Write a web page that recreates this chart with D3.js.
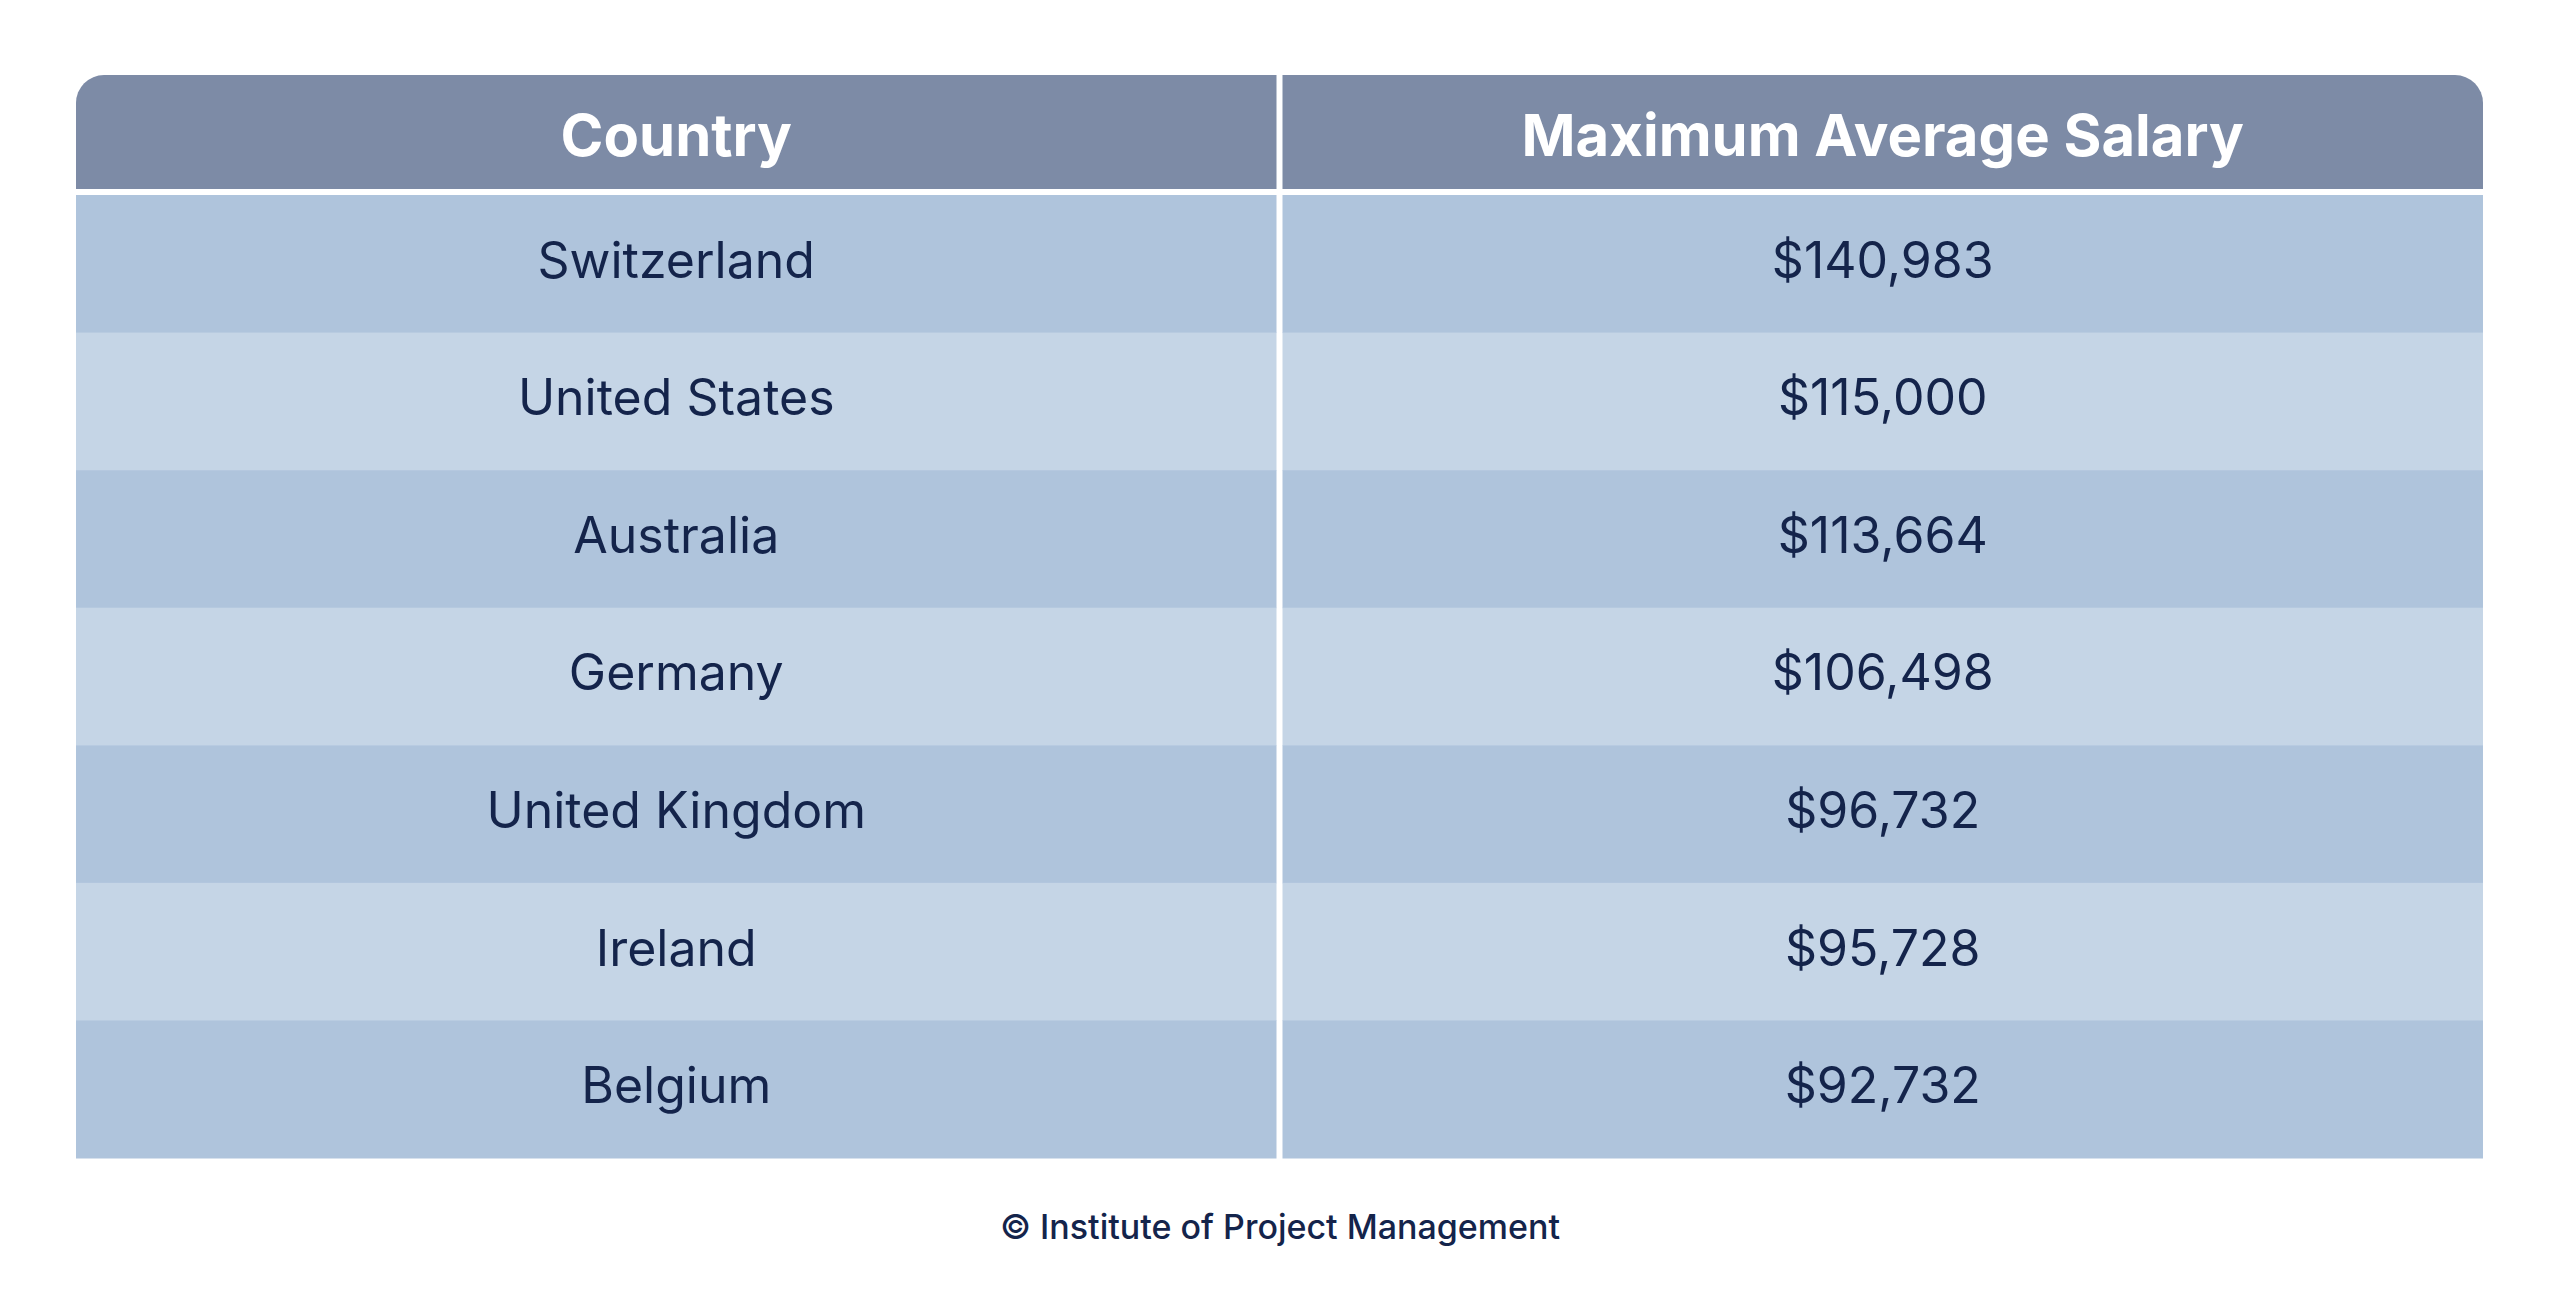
<!DOCTYPE html>
<html>
<head>
<meta charset="utf-8">
<script src="https://cdn.jsdelivr.net/npm/d3@7"></script>
<style>
  html, body { margin: 0; padding: 0; background: #fff; }
  svg { display: block; }
  text { font-family: Inter, "Noto Sans", sans-serif; }
</style>
</head>
<body>
<div id="table"></div>
<script>
// table contents
var headers = ["Country", "Maximum Average Salary"];
var countries = ["Switzerland", "United States", "Australia", "Germany", "United Kingdom", "Ireland", "Belgium"];
var salaries = [140983, 115000, 113664, 106498, 96732, 95728, 92732];
var source = "\u00A9 Institute of Project Management";

var width = 2560, height = 1302;
var tLeft = 76, tRight = 2483, tTop = 75, headBottom = 189, rowsTop = 195, tBottom = 1158;
var gap = 6, radius = 28;

var fmt = d3.format("$,");

var svg = d3.select("#table")
    .append("svg")
    .attr("width", width)
    .attr("height", height);

// columns
var x = d3.scaleBand()
    .domain(d3.range(headers.length))
    .range([tLeft, tRight])
    .paddingInner(gap / ((tRight - tLeft + gap) / 2));

// rows
var y = d3.scaleBand()
    .domain(countries)
    .range([rowsTop, tBottom]);

// header cells, outer top corners rounded
function headPath(i) {
    var x0 = x(i), x1 = x(i) + x.bandwidth(), y0 = tTop, y1 = headBottom;
    var p = d3.path();
    var rl = i === 0 ? radius : 0, rr = i === headers.length - 1 ? radius : 0;
    p.moveTo(x0, y1);
    p.lineTo(x0, y0 + rl);
    if (rl) p.arcTo(x0, y0, x0 + rl, y0, rl);
    p.lineTo(x1 - rr, y0);
    if (rr) p.arcTo(x1, y0, x1, y0 + rr, rr);
    p.lineTo(x1, y1);
    p.closePath();
    return p.toString();
}

svg.selectAll("path.head")
    .data(headers)
    .enter().append("path")
    .attr("class", "head")
    .attr("d", function(d, i) { return headPath(i); })
    .attr("fill", "#7d8ba6");

svg.selectAll("text.head")
    .data(headers)
    .enter().append("text")
    .attr("class", "head")
    .attr("x", function(d, i) { return x(i) + x.bandwidth() / 2; })
    .attr("y", 156)
    .attr("text-anchor", "middle")
    .attr("fill", "#ffffff")
    .style("font-size", "58px")
    .style("font-weight", 700)
    .text(function(d) { return d; });

// body rows
var rows = svg.selectAll("g.row")
    .data(countries)
    .enter().append("g")
    .attr("class", "row")
    .attr("transform", function(d) { return "translate(0," + y(d) + ")"; });

[0, 1].forEach(function(c) {
    rows.append("rect")
        .attr("x", x(c))
        .attr("width", x.bandwidth())
        .attr("height", y.bandwidth() + 0.5)
        .attr("fill", function(d, i) { return i % 2 === 0 ? "#afc4dc" : "#c5d5e6"; });

    rows.append("text")
        .attr("x", x(c) + x.bandwidth() / 2)
        .attr("y", y.bandwidth() / 2 + 14)
        .attr("text-anchor", "middle")
        .attr("fill", "#14244b")
        .style("font-size", "50px")
        .style("font-weight", 400)
        .text(function(d, i) { return c === 0 ? d : fmt(salaries[i]); });
});

// footer
svg.append("text")
    .attr("x", width / 2)
    .attr("y", 1239)
    .attr("text-anchor", "middle")
    .attr("fill", "#14244b")
    .style("font-size", "34px")
    .style("font-weight", 500)
    .text(source);
</script>
</body>
</html>
